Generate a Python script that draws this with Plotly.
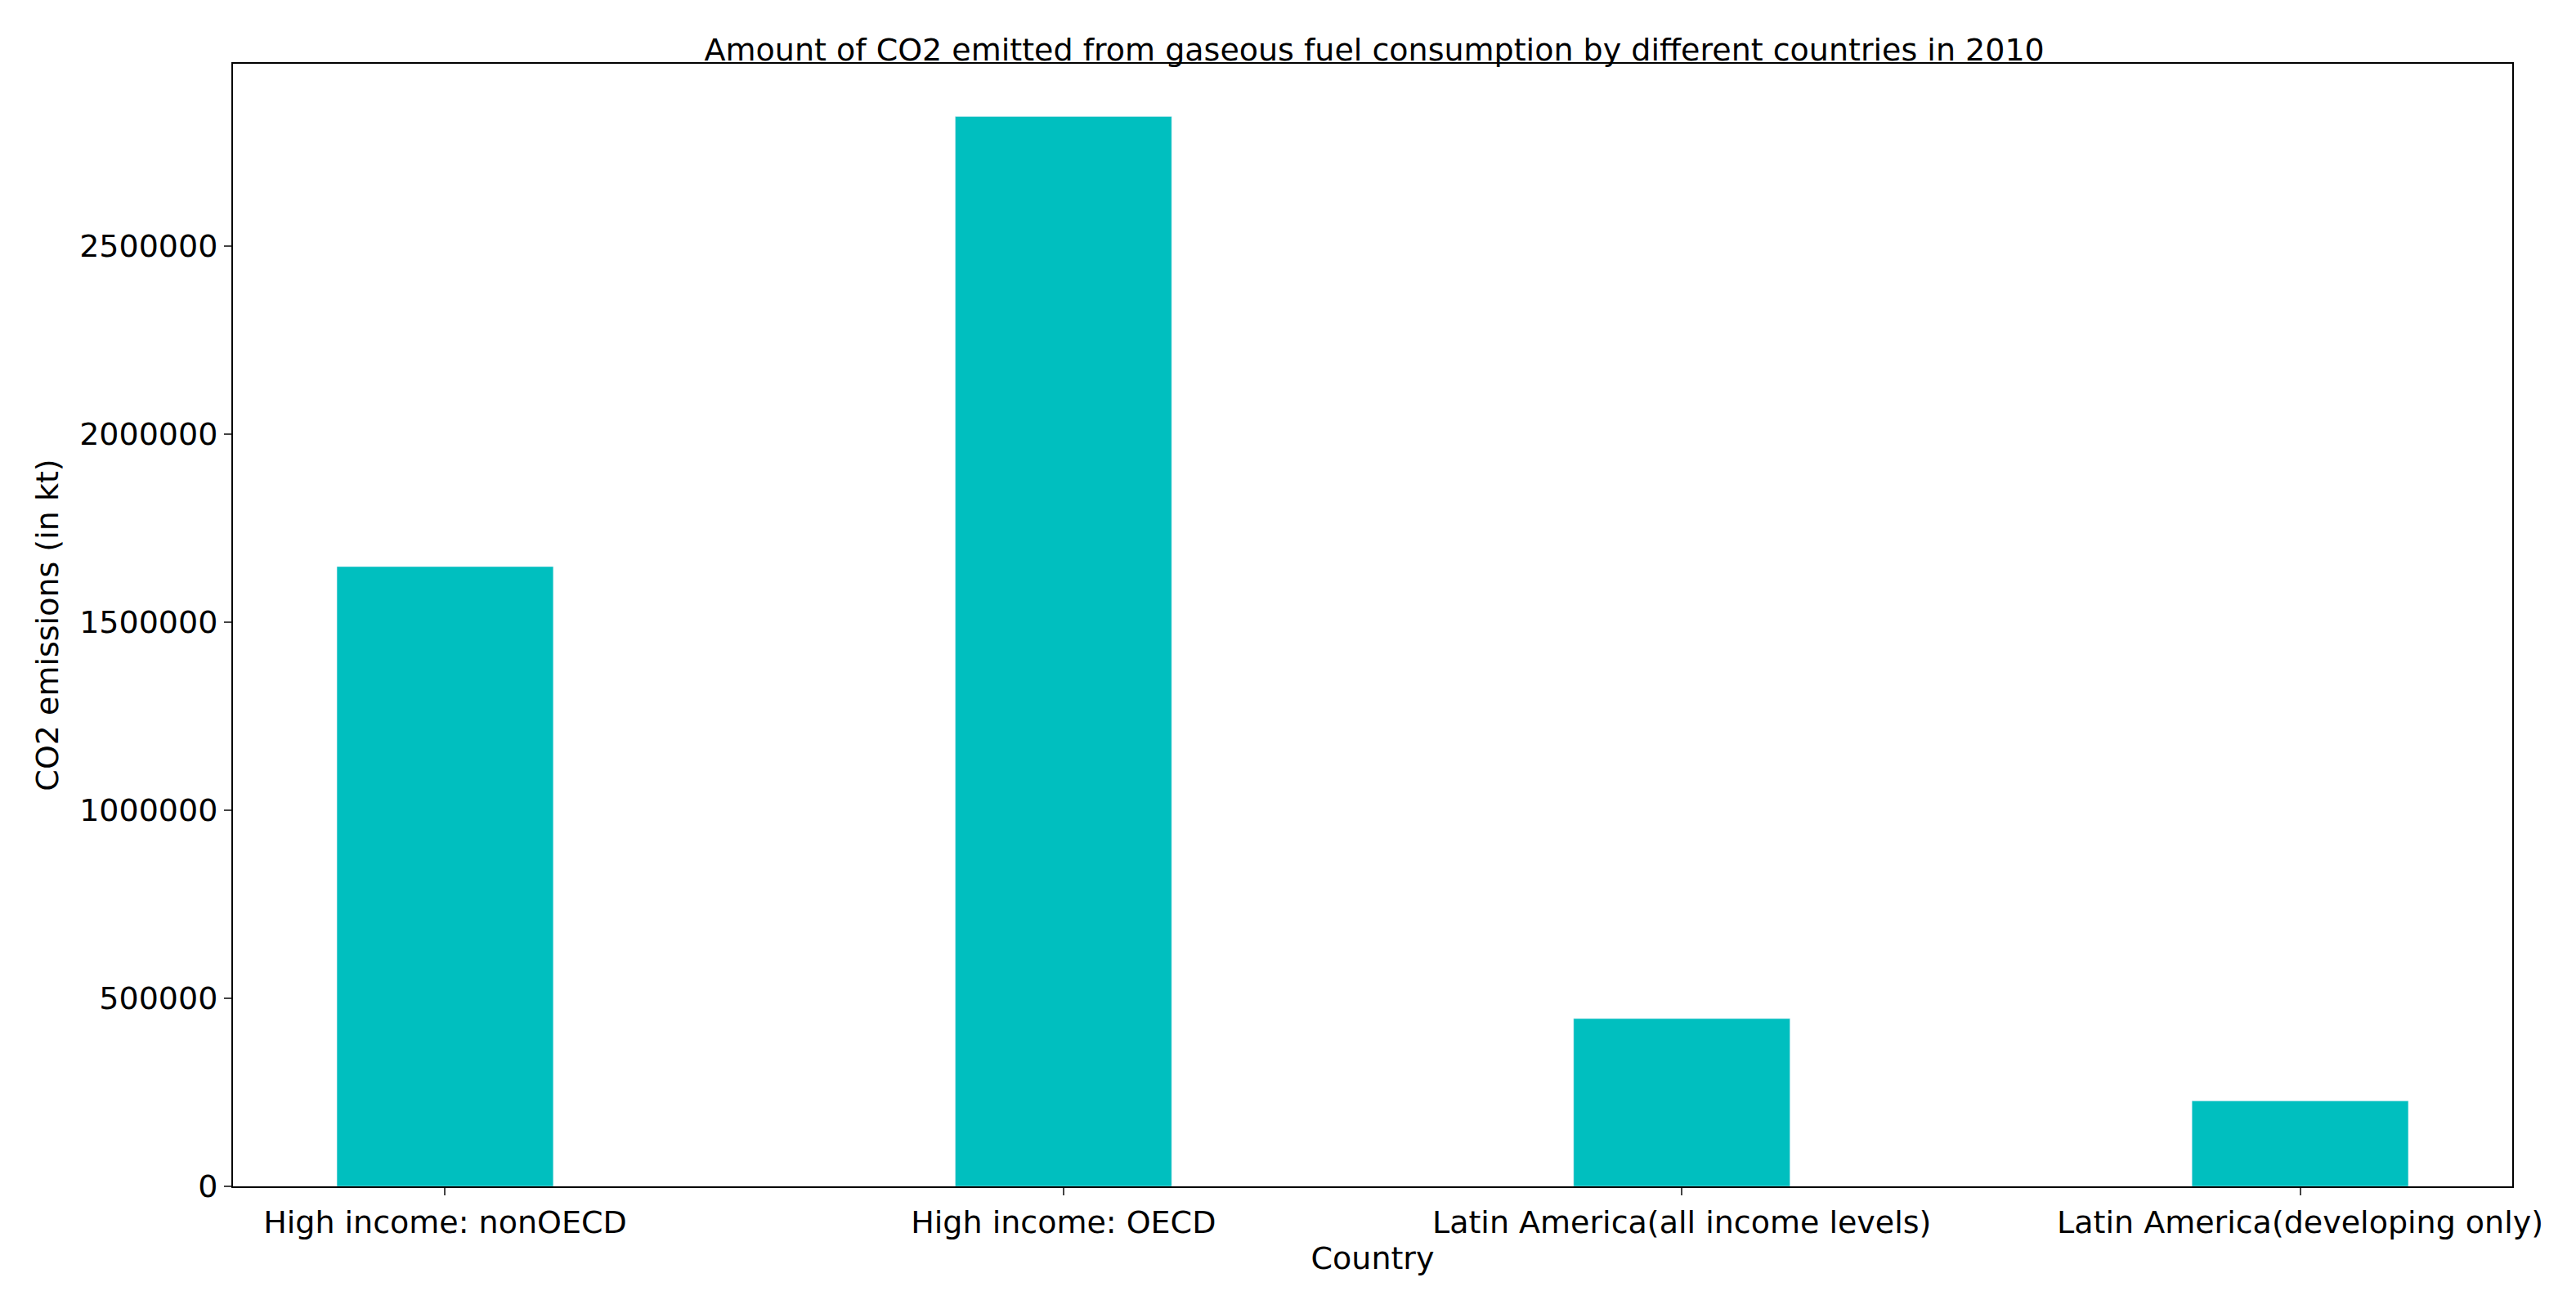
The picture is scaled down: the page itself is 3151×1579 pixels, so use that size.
import plotly.graph_objects as go

countries = ["High income: nonOECD", "High income: OECD",
             "Latin America(all income levels)", "Latin America(developing only)"]
emissions = [1648000, 2845000, 446000, 227000]
y_ticks = [0, 500000, 1000000, 1500000, 2000000, 2500000]

fig = go.Figure(go.Bar(x=list(range(len(countries))), y=emissions,
                       width=0.35, marker_color="#00BFBF"))

axis_style = dict(showline=True, linecolor="black", linewidth=2, mirror=True,
                  ticks="outside", ticklen=9, tickwidth=2, showgrid=False,
                  zeroline=False, tickfont=dict(size=38, color="black"))

fig.update_layout(
    width=3151, height=1579,
    plot_bgcolor="white", paper_bgcolor="white",
    font=dict(family="DejaVu Sans", color="black"),
    title=dict(text="Amount of CO2 emitted from gaseous fuel consumption by different countries in 2010",
               x=0.531, xanchor="center", y=0.975, font=dict(size=38)),
    margin=dict(l=277, r=86, t=70, b=136),
    showlegend=False,
)
fig.update_xaxes(**axis_style, tickvals=list(range(len(countries))), ticktext=countries,
                 range=[-0.343, 3.343],
                 title=dict(text="Country", font=dict(size=38), standoff=8))
fig.update_yaxes(**axis_style, tickvals=y_ticks, ticktext=[str(v) for v in y_ticks],
                 range=[0, 2985000],
                 title=dict(text="CO2 emissions (in kt)", font=dict(size=38), standoff=14))

fig.write_html("out.html")
